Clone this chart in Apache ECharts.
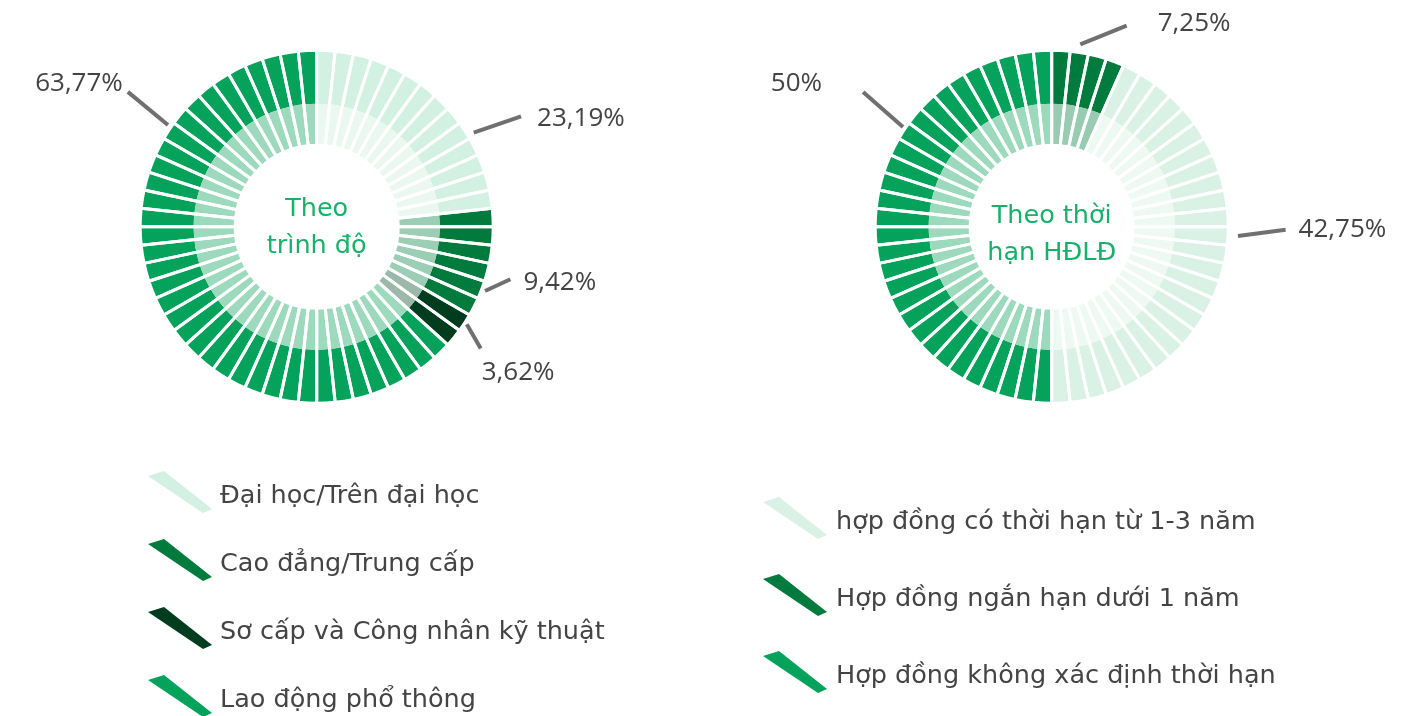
<!DOCTYPE html>
<html>
<head>
<meta charset="utf-8">
<script src="https://cdn.jsdelivr.net/npm/echarts@6/dist/echarts.min.js"></script>
<style>
html,body{margin:0;padding:0;background:#fff;}
#chart{width:1418px;height:716px;}
</style>
</head>
<body>
<div id="chart"></div>
<script>
// ---- DATA ----
const leftCategories = ['Đại học/Trên đại học', 'Cao đẳng/Trung cấp', 'Sơ cấp và Công nhân kỹ thuật', 'Lao động phổ thông'];
const leftValues = [23.19, 9.42, 3.62, 63.77];
const leftCenterText = 'Theo\ntrình độ';

const rightCategories = ['Hợp đồng ngắn hạn dưới 1 năm', 'hợp đồng có thời hạn từ 1-3 năm', 'Hợp đồng không xác định thời hạn'];
const rightValues = [7.25, 42.75, 50];
const rightCenterText = 'Theo thời\nhạn HĐLĐ';

// ---- STYLE / CONFIG ----
const SEGMENTS = 60;
const LABEL_FONT = '"Open Sans", "Noto Sans", sans-serif';
const TEXT_FONT = '"DejaVu Sans", "Noto Sans", sans-serif';
const leftOuter = ['#d3f1e2', '#007a3d', '#003d1f', '#04a25a'];
const leftInner = ['#ebf8f1', '#9ccdb5', '#9bb8aa', '#9ddabd'];
const rightOuter = ['#007a3d', '#d9f2e5', '#04a25a'];
const rightInner = ['#99cbb2', '#eef9f3', '#9ddabd'];
// label anchor angle (deg clockwise from 12 o'clock), leader start shift, direction (screen deg), length, text offsets
const leftLabelCfg = [
  {angle: 57,  sx: 9,    sy: 2,    dir: -18.8, len: 50, tx: 16, ty: 2.5, align: 'left'},
  {angle: 111, sx: 3.5,  sy: 1.1,  dir: -24.8, len: 28, tx: 13, ty: 3,   align: 'left'},
  {angle: 123, sx: 2,    sy: 1.5,  dir: 60,    len: 28, tx: 1,  ty: 24,  align: 'left'},
  {angle: 303, sx: -0.7, sy: -5.6, dir: 219.5, len: 52, tx: -5, ty: -8,  align: 'right'}
];
const rightLabelCfg = [
  {angle: 9,   sx: 1,    sy: -8,   dir: -22,   len: 50, tx: 31,  ty: -2, align: 'left'},
  {angle: 93,  sx: 10,   sy: 0,    dir: -7.3,  len: 48, tx: 13,  ty: 0,  align: 'left'},
  {angle: 303, sx: -0.7, sy: -3.6, dir: 221.2, len: 53, tx: -41, ty: -8, align: 'right'}
];
const leftLegendOrder = [0, 1, 2, 3];
const rightLegendOrder = [1, 0, 2];
const ICON = 'path://M0,5 L16,0 L64,38 L55,42 Z';

function fmt(v) { return String(v).replace('.', ',') + '%'; }

// category of each equal segment, from cumulative shares of the values
function segmentCategories(values) {
  const total = values.reduce((a, b) => a + b, 0);
  const cum = [];
  let s = 0;
  values.forEach(v => { s += v; cum.push(s / total); });
  const out = [];
  for (let i = 0; i < SEGMENTS; i++) {
    const f = (i + 0.5) / SEGMENTS;
    let c = 0;
    while (c < cum.length - 1 && f > cum[c]) c++;
    out.push(c);
  }
  return out;
}

function donut(center, textCenter, cats, vals, outer, inner, labelCfg, centerText) {
  const segCats = segmentCategories(vals);
  const anchorSeg = {};
  labelCfg.forEach((cfg, c) => { anchorSeg[Math.floor(cfg.angle / (360 / SEGMENTS))] = c; });
  const base = {
    type: 'pie', center: center, startAngle: 90, clockwise: true,
    silent: true, animation: false, avoidLabelOverlap: false,
    emphasis: {disabled: true}, label: {show: false}, labelLine: {show: false}
  };
  const outerData = segCats.map(c => ({value: 1, name: cats[c], itemStyle: {color: outer[c]}}));
  const innerData = segCats.map(c => ({value: 1, name: cats[c], itemStyle: {color: inner[c]}}));
  const gapData = segCats.map((c, i) => {
    const a = anchorSeg[i];
    const item = {value: 1, name: cats[c], itemStyle: {color: 'rgba(0,0,0,0)', borderColor: '#ffffff', borderWidth: 3}};
    if (a !== undefined) {
      item.label = {show: true, position: 'outside', formatter: fmt(vals[a]),
        color: '#444444', fontFamily: LABEL_FONT, fontSize: 26};
      item.labelLine = {show: true, length: 6, length2: 1, lineStyle: {color: '#707070', width: 4}};
    }
    return item;
  });
  const labelLayout = function (params) {
    const a = anchorSeg[params.dataIndex];
    if (a === undefined || !params.labelLinePoints) return {};
    const cfg = labelCfg[a];
    const p = params.labelLinePoints[0];
    const th = cfg.dir * Math.PI / 180;
    const p0 = [p[0] + cfg.sx, p[1] + cfg.sy];
    const p1 = [p0[0] + cfg.len * Math.cos(th), p0[1] + cfg.len * Math.sin(th)];
    return {x: p1[0] + cfg.tx, y: p1[1] + cfg.ty, align: cfg.align, verticalAlign: 'middle',
      labelLinePoints: [p0, p1, p1]};
  };
  return [
    Object.assign({}, base, {radius: [123, 176.5], data: outerData}),
    Object.assign({}, base, {radius: [81.5, 123], data: innerData}),
    Object.assign({}, base, {radius: [81.5, 176.5], data: gapData, z: 3, labelLayout: labelLayout}),
    Object.assign({}, base, {center: textCenter, radius: [0, 70], z: 4,
      data: [{value: 1, name: '_center', itemStyle: {color: 'rgba(0,0,0,0)'}}],
      label: {show: true, position: 'center', formatter: centerText, color: '#17b169',
        fontFamily: TEXT_FONT, fontSize: 25.5, lineHeight: 37}})
  ];
}

function legend(cats, order, outer, left, top, gap, padLeft, padTop) {
  return {
    orient: 'vertical', left: left, top: top, height: 320, itemWidth: 64, itemHeight: 42, itemGap: gap,
    selectedMode: false,
    formatter: name => '{t|' + name + '}',
    textStyle: {color: '#444444', fontFamily: TEXT_FONT, fontSize: 25.5,
      rich: {t: {color: '#444444', fontFamily: TEXT_FONT, fontSize: 25.5, padding: [padTop, 0, 0, padLeft]}}},
    data: order.map(i => ({name: cats[i], icon: ICON, itemStyle: {color: outer[i]}}))
  };
}

const chart = echarts.init(document.getElementById('chart'), null, {renderer: 'canvas'});
chart.setOption({
  backgroundColor: '#ffffff',
  legend: [
    legend(leftCategories, leftLegendOrder, leftOuter, 143, 466, 26, 3, 8),
    legend(rightCategories, rightLegendOrder, rightOuter, 758, 492, 35, 4, 8)
  ],
  series: [].concat(
    donut([316.7, 226.7], [316.7, 227.7], leftCategories, leftValues, leftOuter, leftInner, leftLabelCfg, leftCenterText),
    donut([1051.7, 226.7], [1051.7, 235.2], rightCategories, rightValues, rightOuter, rightInner, rightLabelCfg, rightCenterText)
  )
});
</script>
</body>
</html>
